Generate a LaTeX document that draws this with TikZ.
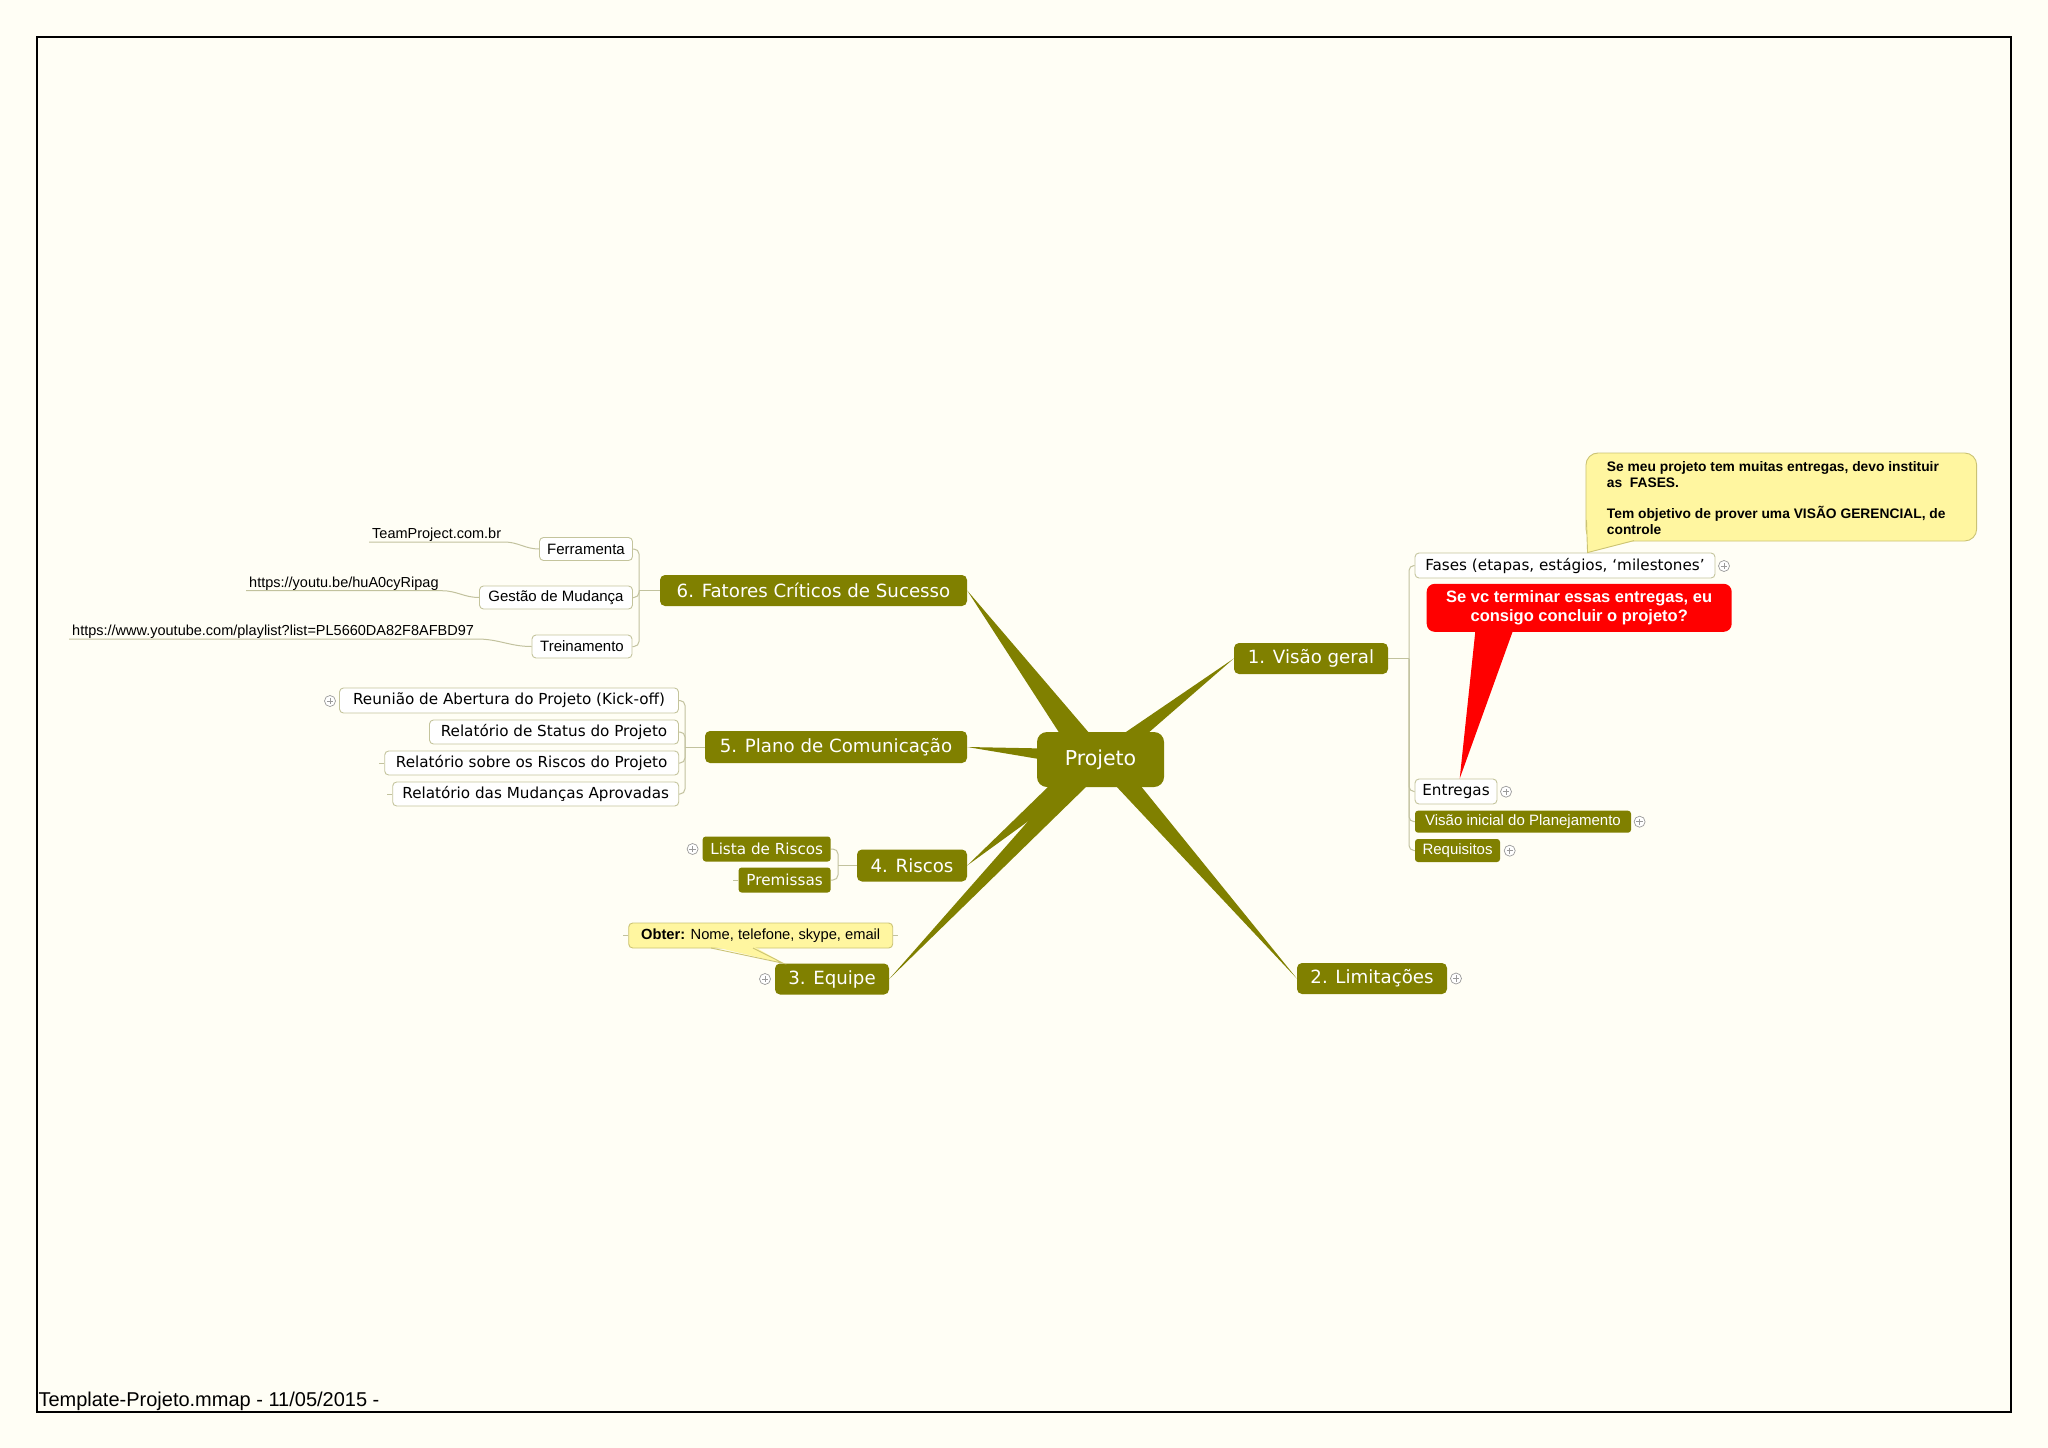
\documentclass[tikz,border=0pt]{standalone}
\usepackage{fontspec}
\setmainfont{Liberation Sans}
\newfontfamily\vfont{DejaVu Sans}
\usetikzlibrary{calc,backgrounds}
\definecolor{mmolive}{HTML}{808000}
\definecolor{mmbg}{HTML}{FFFEF5}
\definecolor{mmline}{HTML}{C2C29E}
\definecolor{mmborder}{HTML}{C4C49C}
\definecolor{mmgray}{HTML}{9A9A9A}
\definecolor{mmyellow}{HTML}{FFF6A0}
\definecolor{mmyborder}{HTML}{CBC374}
\definecolor{mmred}{HTML}{FF0000}
\begin{document}
\begin{tikzpicture}[x=1pt,y=-1pt,
  mainbox/.style={fill=mmolive, text=white, rounded corners=5pt, inner sep=0pt, font=\vfont\fontsize{18.2}{20}\selectfont},
  subw/.style={fill=white, draw=mmborder, line width=0.9pt, rounded corners=4pt, inner sep=0pt, text=black},
  subo/.style={fill=mmolive, text=white, rounded corners=3pt, inner sep=0pt},
  vf/.style={font=\vfont\fontsize{15.2}{17}\selectfont},
  af/.style={font=\fontsize{15}{17}\selectfont},
  conn/.style={draw=mmline, line width=1pt, rounded corners=5pt},
  plusicon/.style={circle, draw=mmgray, fill=white, line width=0.7pt, minimum size=11pt, inner sep=0pt,
    path picture={\draw[mmgray, line width=0.7pt] (path picture bounding box.center) ++(-3.2,0) -- ++(6.4,0) (path picture bounding box.center) ++(0,-3.2) -- ++(0,6.4);}},
  urltext/.style={anchor=south west, inner xsep=3pt, inner ysep=3pt, text depth=0pt, font=\fontsize{14.5}{16}\selectfont},
  wedge/.style={fill=mmolive},
  callbox/.style={fill=mmyellow, draw=mmyborder, line width=0.9pt, inner sep=0pt}
]
\useasboundingbox (0,0) rectangle (2048,1448);

% central node
\node[mainbox, rounded corners=10pt, minimum width=127pt, minimum height=55pt, font=\vfont\fontsize{20.5}{22}\selectfont] (proj) at (1100.5,759.5) {Projeto};

% main branches
\node[mainbox, minimum width=154pt, minimum height=31pt] (vis) at (1311,658.5) {1. Visão geral};
\node[mainbox, minimum width=150pt, minimum height=31pt] (lim) at (1372,978.5) {2. Limitações};
\node[mainbox, minimum width=114pt, minimum height=31pt] (equ) at (832,979) {3. Equipe};
\node[mainbox, minimum width=110pt, minimum height=32pt] (ris) at (912,865.5) {4. Riscos};
\node[mainbox, minimum width=262pt, minimum height=32pt] (pla) at (836,747) {5. Plano de Comunicação};
\node[mainbox, minimum width=307pt, minimum height=31pt] (fat) at (813.5,590.5) {6. Fatores Críticos de Sucesso};

% Fatores children
\node[subw, af, minimum width=93pt, minimum height=23pt] (fer) at (586,549) {Ferramenta};
\node[subw, af, minimum width=153pt, minimum height=23pt] (ges) at (556,597.5) {Gestão de Mudança};
\node[subw, af, minimum width=100pt, minimum height=23pt] (tre) at (582,646.5) {Treinamento};
\node[urltext] (u1) at (369,542) {TeamProject.com.br};
\node[urltext] (u2) at (246,590.7) {https://youtu.be/huA0cyRipag};
\node[urltext] (u3) at (69,639) {https://www.youtube.com/playlist?list=PL5660DA82F8AFBD97};

% Plano children
\node[subw, vf, minimum width=339pt, minimum height=25pt] (reu) at (509,700.5) {Reunião de Abertura do Projeto (Kick-off)};
\node[subw, vf, minimum width=249pt, minimum height=24pt] (sta) at (554,732) {Relatório de Status do Projeto};
\node[subw, vf, minimum width=294pt, minimum height=24pt] (rri) at (531.7,763) {Relatório sobre os Riscos do Projeto};
\node[subw, vf, minimum width=286pt, minimum height=24pt] (mud) at (535.7,794) {Relatório das Mudanças Aprovadas};

% Riscos children
\node[subo, vf, minimum width=128pt, minimum height=25pt] (lis) at (766.7,849) {Lista de Riscos};
\node[subo, vf, minimum width=92pt, minimum height=25pt] (pre) at (784.6,880) {Premissas};

% Visao children
\node[subw, vf, minimum width=300pt, minimum height=25pt] (fas) at (1565,565.5) {Fases (etapas, estágios, ‘milestones’};
\node[subw, vf, minimum width=82pt, minimum height=25pt] (ent) at (1456,791.5) {Entregas};
\node[subo, af, minimum width=216pt, minimum height=22pt] (vin) at (1523,821.7) {Visão inicial do Planejamento};
\node[subo, af, minimum width=85pt, minimum height=23pt] (req) at (1457.5,850.5) {Requisitos};

% plus icons
\node[plusicon] (p1) at (330,701) {};
\node[plusicon] (p2) at (692.6,849) {};
\node[plusicon] (p3) at (765,979) {};
\node[plusicon] (p4) at (1456,978.5) {};
\node[plusicon] (p5) at (1724,566) {};
\node[plusicon] (p6) at (1506,791.7) {};
\node[plusicon] (p7) at (1639.6,821.7) {};
\node[plusicon] (p8) at (1509.7,850.7) {};

% bracket coordinates
\coordinate (fatx) at (639,590.5);
\coordinate (plax) at (685,747);
\coordinate (risx) at (838,865.5);
\coordinate (visx) at (1409,658.5);

\begin{scope}[on background layer]
  \fill[mmbg] (0,0) rectangle (2048,1448);
  % tapered branches
  \fill[wedge] (1123,734) -- (vis.west) -- (1147,734) -- cycle;
  \fill[wedge] (1060,734) -- (fat.east) -- (1090,734) -- cycle;
  \fill[wedge] (1045,748.5) -- (pla.east) -- (1045,760) -- cycle;
  \fill[wedge] (1050,785) -- (ris.east) -- (1078,785) -- cycle;
  \fill[wedge] (1060,785) -- (equ.east) -- (1088,785) -- cycle;
  \fill[wedge] (1115,785) -- (lim.west) -- (1140,785) -- cycle;
  % brackets
  \draw[conn] (fat.west) -- (fatx);
  \draw[conn] (fatx) |- (fer.east);
  \draw[conn] (fatx) |- (ges.east);
  \draw[conn] (fatx) |- (tre.east);
  \draw[conn] (pla.west) -- (plax);
  \draw[conn] (plax) |- (reu.east);
  \draw[conn] (plax) |- (sta.east);
  \draw[conn] (plax) |- (rri.east);
  \draw[conn] (plax) |- (mud.east);
  \draw[conn] (ris.west) -- (risx);
  \draw[conn] (risx) |- (lis.east);
  \draw[conn] (risx) |- (pre.east);
  \draw[conn] (vis.east) -- (visx);
  \draw[conn] (visx) |- (fas.west);
  \draw[conn] (visx) |- (ent.west);
  \draw[conn] (visx) |- (vin.west);
  \draw[conn] (visx) |- (req.west);
  % url underlines
  \draw[mmline, line width=1pt] (u1.south west) -- (u1.south east) to[out=0,in=180] (fer.west);
  \draw[mmline, line width=1pt] (u2.south west) -- (u2.south east) to[out=0,in=180] (ges.west);
  \draw[mmline, line width=1pt] (u3.south west) -- (u3.south east) to[out=0,in=180] (tre.west);
  % small stubs
  \draw[mmline, line width=1pt] (rri.west) -- ++(-5,0);
  \draw[mmline, line width=1pt] (mud.west) -- ++(-5,0);
  \draw[mmline, line width=1pt] (pre.west) -- ++(-5,0);
\end{scope}

% frame and footer
\draw[black, line width=2pt] (36.6,36.6) rectangle (2011,1411.5);
\node[anchor=base west, inner sep=0pt, font=\fontsize{20}{22}\selectfont] (foot) at (38.3,1406.5) {Template-Projeto.mmap - 11/05/2015 -};

% callout: Obter
\node[callbox, rounded corners=4pt, minimum width=264pt, minimum height=25pt, font=\fontsize{14.7}{16}\selectfont] (obt) at (760.7,935.5) {\textbf{Obter:} Nome, telefone, skype, email};
\fill[mmyellow] (711,946) -- ($(equ.north west)+(8.5,0)$) -- (753,946) -- cycle;
\draw[mmyborder, line width=0.9pt] (711,948) -- ($(equ.north west)+(8.5,0)$) -- (753,948);
\draw[mmline, line width=1pt] (obt.west) -- ++(-5,0);
\draw[mmline, line width=1pt] (obt.east) -- ++(5,0);

% callout: top yellow
\node[callbox, rounded corners=12pt, minimum width=390.7pt, minimum height=88pt] (cal1) at (1781.3,497) {};
\fill[mmyellow] (1586.45,520) -- ($(fas.north west)+(173,0)$) -- (1634,541) -- (1634,530) -- (1586.45,530) -- cycle;
\draw[mmyborder, line width=0.9pt] (1586.45,520) -- ($(fas.north west)+(173,0)$) -- (1634,540.55);
\node[anchor=west, align=left, inner sep=0pt, font=\bfseries\fontsize{13.8}{15.65}\selectfont] (cal1t) at (1606.7,498) {Se meu projeto tem muitas entregas, devo instituir\\as\ \ FASES.\\[15.65pt]Tem objetivo de prover uma VISÃO GERENCIAL, de\\controle};

% callout: red
\node[fill=mmred, rounded corners=8pt, minimum width=305pt, minimum height=48pt, inner sep=0pt, text=white, align=center, font=\bfseries\fontsize{16.5}{19}\selectfont] (cal2) at (1579.2,607.8) {Se vc terminar essas entregas, eu\\consigo concluir o projeto?};
\fill[mmred] (1476,625) -- ($(ent.north)+(3.7,0)$) -- (1515,625) -- cycle;
\end{tikzpicture}
\end{document}
